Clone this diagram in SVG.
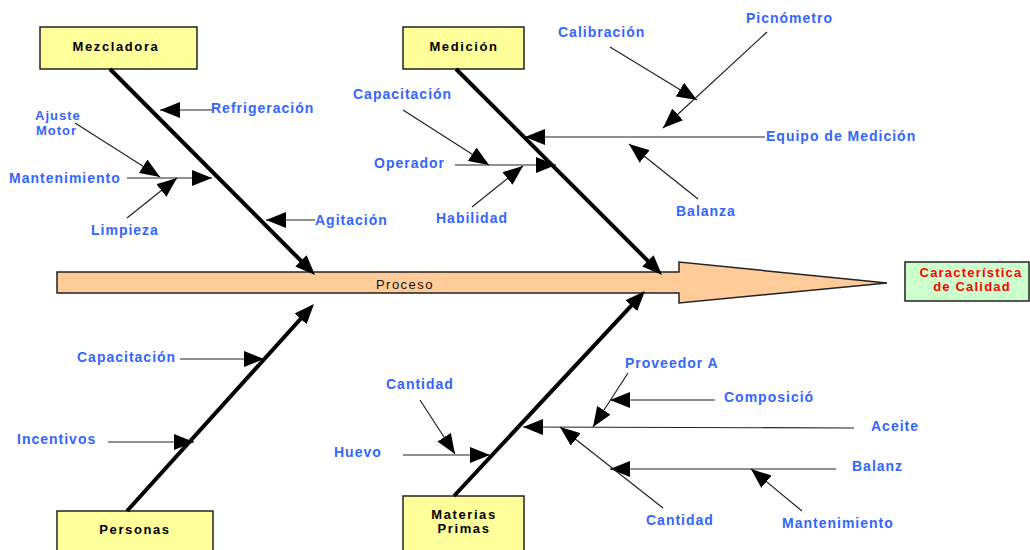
<svg xmlns="http://www.w3.org/2000/svg" width="1030" height="550" viewBox="0 0 1030 550">
<style>
.box{fill:#FFFF99;stroke:#222;stroke-width:1.5}
.lbl{font-family:"Liberation Sans",Arial,sans-serif;font-weight:bold;font-size:13px;fill:#000;letter-spacing:1.6px;text-anchor:middle}
.t{font-family:"Liberation Sans",Arial,sans-serif;font-weight:bold;font-size:14px;fill:#3366FF;letter-spacing:1px}
.bone{stroke:#000;stroke-width:4;fill:none}
.rib{stroke:#222;stroke-width:1.2;fill:none;marker-end:url(#ah)}
</style>
<defs>
<marker id="ah" markerUnits="userSpaceOnUse" viewBox="0 0 20 16" markerWidth="20" markerHeight="16" refX="20" refY="8" orient="auto"><path d="M0,0 L20,8 L0,16 z" fill="#000"/></marker>
<marker id="ahb" markerUnits="userSpaceOnUse" viewBox="0 0 20 16" markerWidth="20" markerHeight="16" refX="14" refY="8" orient="auto"><path d="M0,0 L20,8 L0,16 z" fill="#000"/></marker>
</defs>
<rect width="1030" height="550" fill="#fff"/>

<g id="proceso">
<path d="M57,272 H679 V262 L887,283 L679,303 V293 H57 Z" fill="#FFCC99" stroke="#222" stroke-width="1.5"/>
<text x="405" y="289" style="font-family:'Liberation Sans',Arial,sans-serif;font-size:13px;fill:#111;letter-spacing:1.5px;text-anchor:middle">Proceso</text>
</g>

<g id="caracteristica">
<rect x="905" y="262" width="124" height="39" fill="#CCFFCC" stroke="#222" stroke-width="1.5"/>
<text class="lbl" x="971" y="277" style="fill:#FF0000;letter-spacing:1.2px">Característica</text>
<text class="lbl" x="972" y="291" style="fill:#FF0000;letter-spacing:1.2px">de Calidad</text>
</g>

<g id="mezcladora">
<rect class="box" x="40" y="27" width="157" height="42"/>
<text class="lbl" x="116" y="51">Mezcladora</text>
</g>
<g id="medicion">
<rect class="box" x="403" y="27" width="121" height="42"/>
<text class="lbl" x="464" y="51">Medición</text>
</g>
<g id="personas">
<rect class="box" x="57" y="511" width="156" height="50"/>
<text class="lbl" x="135" y="534">Personas</text>
</g>
<g id="materias">
<rect class="box" x="403" y="496" width="121" height="60"/>
<text class="lbl" x="464" y="519">Materias</text>
<text class="lbl" x="464" y="533">Primas</text>
</g>

<g id="connectors">
<line class="bone" x1="110" y1="69" x2="310.8" y2="270.7" marker-end="url(#ahb)"/>
<line class="bone" x1="456" y1="69" x2="657.8" y2="270.8" marker-end="url(#ahb)"/>
<line class="bone" x1="127" y1="511" x2="310" y2="308.5" marker-end="url(#ahb)"/>
<line class="bone" x1="454" y1="496" x2="640.9" y2="295.4" marker-end="url(#ahb)"/>

<line class="rib" x1="212" y1="110" x2="160" y2="110"/>
<line class="rib" x1="315" y1="220" x2="266" y2="220"/>
<line class="rib" x1="127" y1="178" x2="212" y2="178"/>
<line class="rib" x1="75" y1="123" x2="160" y2="177"/>
<line class="rib" x1="127" y1="218" x2="177" y2="178"/>

<line class="rib" x1="403" y1="110" x2="489" y2="165"/>
<line class="rib" x1="455" y1="165" x2="556" y2="165"/>
<line class="rib" x1="472" y1="207" x2="523" y2="166"/>
<line class="rib" x1="765" y1="137" x2="525" y2="137"/>
<line class="rib" x1="610" y1="47" x2="697" y2="100"/>
<line class="rib" x1="767" y1="32" x2="663" y2="128"/>
<line class="rib" x1="698" y1="199" x2="629" y2="144"/>

<line class="rib" x1="180" y1="359" x2="264" y2="359"/>
<line class="rib" x1="108" y1="442" x2="194" y2="442"/>

<line class="rib" x1="403" y1="455" x2="490" y2="455"/>
<line class="rib" x1="420" y1="400" x2="455" y2="454"/>
<line class="rib" x1="854" y1="428" x2="523" y2="427"/>
<line class="rib" x1="715" y1="400" x2="610" y2="400"/>
<line class="rib" x1="628" y1="373" x2="593" y2="427"/>
<line class="rib" x1="836" y1="469" x2="610" y2="469"/>
<line class="rib" x1="663" y1="508" x2="560" y2="427"/>
<line class="rib" x1="802" y1="511" x2="751" y2="469"/>
</g>

<g id="labels">
<text class="t" x="211" y="113">Refrigeración</text>
<text class="t" x="35" y="120" style="font-size:13px">Ajuste</text>
<text class="t" x="36" y="135" style="font-size:13px">Motor</text>
<text class="t" x="9" y="183">Mantenimiento</text>
<text class="t" x="91" y="235">Limpieza</text>
<text class="t" x="315" y="225">Agitación</text>
<text class="t" x="353" y="99">Capacitación</text>
<text class="t" x="374" y="168">Operador</text>
<text class="t" x="436" y="223">Habilidad</text>
<text class="t" x="558" y="37">Calibración</text>
<text class="t" x="746" y="23">Picnómetro</text>
<text class="t" x="766" y="141">Equipo de Medición</text>
<text class="t" x="676" y="216">Balanza</text>
<text class="t" x="77" y="362">Capacitación</text>
<text class="t" x="17" y="444">Incentivos</text>
<text class="t" x="386" y="389">Cantidad</text>
<text class="t" x="334" y="457">Huevo</text>
<text class="t" x="625" y="368">Proveedor A</text>
<text class="t" x="724" y="402">Composició</text>
<text class="t" x="871" y="431">Aceite</text>
<text class="t" x="852" y="471">Balanz</text>
<text class="t" x="646" y="525">Cantidad</text>
<text class="t" x="782" y="528">Mantenimiento</text>
</g>
</svg>
